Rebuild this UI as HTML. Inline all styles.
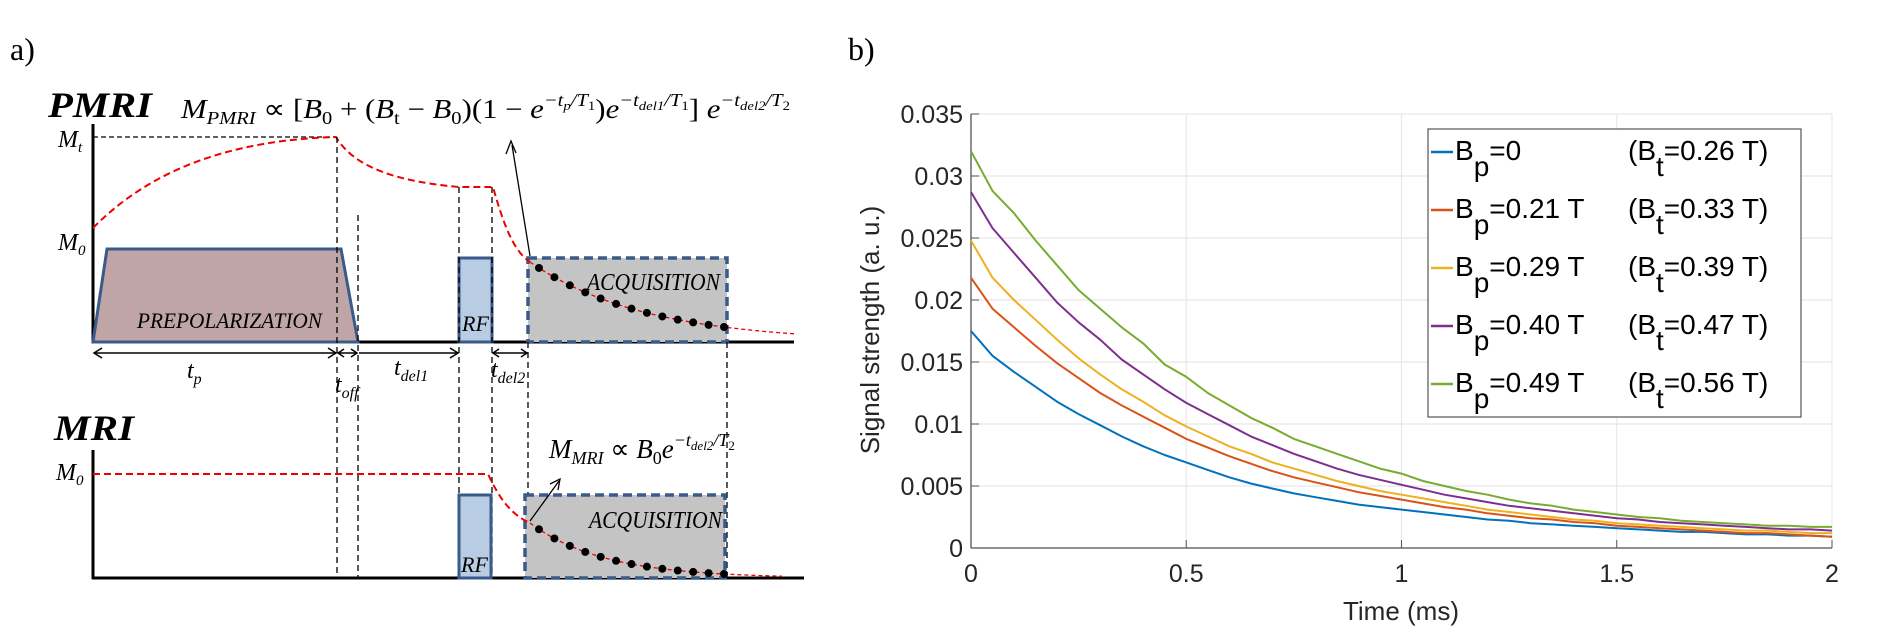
<!DOCTYPE html>
<html><head><meta charset="utf-8"><style>
html,body{margin:0;padding:0;background:#fff;}
svg{display:block;}
.serif{font-family:"Liberation Serif",serif;}
.sans{font-family:"Liberation Sans",sans-serif;}
</style></head><body>
<svg id="fig" width="1882" height="638" viewBox="0 0 1882 638" xmlns="http://www.w3.org/2000/svg">
<g id="panelA">
  <text x="10" y="60" class="serif" font-size="32">a)</text>
  <text x="48" y="117" class="serif" font-size="36" font-weight="bold" font-style="italic" textLength="104" lengthAdjust="spacingAndGlyphs">PMRI</text>
  <text x="181" y="118" class="serif" font-size="27" font-style="italic" textLength="609" lengthAdjust="spacingAndGlyphs">M<tspan font-size="18" dy="6">PMRI</tspan><tspan dy="-6" font-style="normal"> ∝ [</tspan>B<tspan font-size="18" dy="6" font-style="normal">0</tspan><tspan dy="-6" font-style="normal"> + (</tspan>B<tspan font-size="18" dy="6" font-style="normal">t</tspan><tspan dy="-6" font-style="normal"> − </tspan>B<tspan font-size="18" dy="6" font-style="normal">0</tspan><tspan dy="-6" font-style="normal">)(1 − </tspan>e<tspan font-size="18" dy="-12">−t</tspan><tspan font-size="13" dy="4">p</tspan><tspan font-size="18" dy="-4">/T</tspan><tspan font-size="13" dy="4" font-style="normal">1</tspan><tspan dy="8" font-style="normal">)</tspan>e<tspan font-size="18" dy="-12">−t</tspan><tspan font-size="13" dy="4">del1</tspan><tspan font-size="18" dy="-4">/T</tspan><tspan font-size="13" dy="4" font-style="normal">1</tspan><tspan dy="8" font-style="normal">] </tspan>e<tspan font-size="18" dy="-12">−t</tspan><tspan font-size="13" dy="4">del2</tspan><tspan font-size="18" dy="-4">/T</tspan><tspan font-size="13" dy="4" font-style="normal">2</tspan></text>

  <line x1="93" y1="124" x2="93" y2="343" stroke="#000" stroke-width="3"/>
  <line x1="92" y1="342" x2="794" y2="342" stroke="#000" stroke-width="3"/>
  <text x="58" y="147" class="serif" font-size="24" font-style="italic">M<tspan font-size="15" dy="5">t</tspan></text>
  <text x="58" y="250" class="serif" font-size="24" font-style="italic">M<tspan font-size="15" dy="5">0</tspan></text>
  <line x1="93" y1="137" x2="336" y2="137" stroke="#000" stroke-width="1.3" stroke-dasharray="5,3"/>

  <polygon points="93,342 107,249 341,249 358,342" fill="#bfa5a5" stroke="#3a5a8a" stroke-width="3"/>
  <text x="137" y="328" class="serif" font-size="22" font-style="italic" textLength="185" lengthAdjust="spacingAndGlyphs">PREPOLARIZATION</text>
  <rect x="459" y="258" width="33" height="84" fill="#b8cce4" stroke="#3a5a8a" stroke-width="3"/>
  <text x="462" y="331" class="serif" font-size="22" font-style="italic">RF</text>
  <rect x="528" y="258" width="199" height="84" fill="#c4c4c4" stroke="#3a5a8a" stroke-width="3.5" stroke-dasharray="9,5"/>
  <text x="587" y="290" class="serif" font-size="24" font-style="italic" textLength="133" lengthAdjust="spacingAndGlyphs">ACQUISITION</text>

  <path d="M93,228 C150,170 230,140 336,137 C350,160 380,180 459,187 L493,187 C505,230 515,252 530,262" fill="none" stroke="#e00" stroke-width="2" stroke-dasharray="7,4"/>
  <path id="decayTop" fill="none" stroke="#e00" stroke-width="1.3" stroke-dasharray="4,3"/>
  <g id="dotsTop"></g>
  <line x1="530" y1="256" x2="512" y2="145" stroke="#000" stroke-width="1.3"/>
  <path d="M506,154 L511,141 L516,153" fill="none" stroke="#000" stroke-width="1.3"/>

  <g stroke="#000" stroke-width="1.3" stroke-dasharray="6,4">
    <line x1="337" y1="137" x2="337" y2="578"/>
    <line x1="358" y1="215" x2="358" y2="578"/>
    <line x1="459" y1="187" x2="459" y2="578"/>
    <line x1="492" y1="187" x2="492" y2="578"/>
    <line x1="528" y1="342" x2="528" y2="578"/>
    <line x1="727" y1="342" x2="727" y2="578"/>
  </g>
  <g stroke="#000" stroke-width="1.5">
    <line x1="94" y1="353" x2="336" y2="353"/><path d="M102,348 L94,353 L102,358 M328,348 L336,353 L328,358" fill="none"/>
    <line x1="338" y1="353" x2="357" y2="353"/><path d="M344,349 L338,353 L344,357 M351,349 L357,353 L351,357" fill="none"/>
    <line x1="359" y1="353" x2="458" y2="353"/><path d="M450,348 L458,353 L450,358" fill="none"/>
    <line x1="493" y1="353" x2="527" y2="353"/><path d="M499,349 L493,353 L499,357 M521,349 L527,353 L521,357" fill="none"/>
  </g>
  <text x="187" y="378" class="serif" font-size="24" font-style="italic">t<tspan font-size="16" dy="6">p</tspan></text>
  <text x="335" y="392" class="serif" font-size="24" font-style="italic">t<tspan font-size="16" dy="6">off</tspan></text>
  <text x="394" y="375" class="serif" font-size="24" font-style="italic">t<tspan font-size="16" dy="6">del1</tspan></text>
  <text x="491" y="377" class="serif" font-size="24" font-style="italic">t<tspan font-size="16" dy="6">del2</tspan></text>

  <text x="54" y="440" class="serif" font-size="36" font-weight="bold" font-style="italic" textLength="80" lengthAdjust="spacingAndGlyphs">MRI</text>
  <line x1="93" y1="450" x2="93" y2="579" stroke="#000" stroke-width="3"/>
  <line x1="92" y1="578" x2="804" y2="578" stroke="#000" stroke-width="3"/>
  <text x="56" y="480" class="serif" font-size="24" font-style="italic">M<tspan font-size="15" dy="5">0</tspan></text>
  <rect x="459" y="495" width="32" height="83" fill="#b8cce4" stroke="#3a5a8a" stroke-width="3"/>
  <text x="461" y="572" class="serif" font-size="22" font-style="italic">RF</text>
  <rect x="525" y="495" width="200" height="83" fill="#c4c4c4" stroke="#3a5a8a" stroke-width="3.5" stroke-dasharray="9,5"/>
  <text x="589" y="528" class="serif" font-size="24" font-style="italic" textLength="133" lengthAdjust="spacingAndGlyphs">ACQUISITION</text>
  <path d="M93,474 L488,474 C500,500 512,515 530,523" fill="none" stroke="#e00" stroke-width="2" stroke-dasharray="7,4"/>
  <path id="decayBot" fill="none" stroke="#e00" stroke-width="1.3" stroke-dasharray="4,3"/>
  <g id="dotsBot"></g>
  <line x1="530" y1="521" x2="559" y2="481" stroke="#000" stroke-width="1.3"/>
  <path d="M550,484 L560,479 L558,490" fill="none" stroke="#000" stroke-width="1.3"/>
  <text x="549" y="458" class="serif" font-size="27" font-style="italic">M<tspan font-size="18" dy="6">MRI</tspan><tspan dy="-6" font-style="normal"> ∝ </tspan>B<tspan font-size="18" dy="6" font-style="normal">0</tspan><tspan dy="-6">e</tspan><tspan font-size="18" dy="-12">−t</tspan><tspan font-size="13" dy="4">del2</tspan><tspan font-size="18" dy="-4">/T</tspan><tspan font-size="13" dy="4" font-style="normal">2</tspan></text>
</g>

<g id="panelB">
  <text x="848" y="60" class="serif" font-size="32">b)</text>
  <g id="grid"></g>
  <g id="axes"></g>
  <g id="series"></g>
  <g id="legend"></g>
</g>
</svg>
<script>
const NS='http://www.w3.org/2000/svg';
function mk(tag,attrs,parent){const e=document.createElementNS(NS,tag);for(const k in attrs)e.setAttribute(k,attrs[k]);parent.appendChild(e);return e;}

(function(){
  function build(pathId,dotId,x0,x1,yb,h0,h1,xe){
    const k=Math.log(h0/h1)/(x1-x0);let d='';
    for(let x=x0;x<=xe;x+=4){const y=yb-h0*Math.exp(-k*(x-x0));d+=(d?'L':'M')+x+','+y.toFixed(1);}
    document.getElementById(pathId).setAttribute('d',d);
    const g=document.getElementById(dotId);
    for(let i=0;i<13;i++){const x=x0+9+i*(x1-x0-9)/12;const y=yb-h0*Math.exp(-k*(x-x0));
      const c=mk('circle',{cx:x,cy:y,r:4,fill:'#000'},g);
      
      }
  }
  build('decayTop','dotsTop',530,724,342,80,15,794);
  build('decayBot','dotsBot',530,724,578,55,4,785);
})();

const times=[0,0.05,0.1,0.15,0.2,0.25,0.3,0.35,0.4,0.45,0.5,0.55,0.6,0.65,0.7,0.75,0.8,0.85,0.9,0.95,1.0,1.05,1.1,1.15,1.2,1.25,1.3,1.35,1.4,1.45,1.5,1.55,1.6,1.65,1.7,1.75,1.8,1.85,1.9,1.95,2.0];
const sBlue=[0.0175,0.0155,0.0142,0.0130,0.0118,0.0108,0.0099,0.0090,0.0082,0.0075,0.0069,0.0063,0.0057,0.0052,0.0048,0.0044,0.0041,0.0038,0.0035,0.0033,0.0031,0.0029,0.0027,0.0025,0.0023,0.0022,0.0020,0.0019,0.0018,0.0017,0.0016,0.0015,0.0014,0.0013,0.0013,0.0012,0.0011,0.0011,0.0010,0.0010,0.0009];
const sRed=[0.0218,0.0193,0.0178,0.0163,0.0149,0.0137,0.0125,0.0115,0.0106,0.0097,0.0088,0.0081,0.0074,0.0068,0.0062,0.0057,0.0053,0.0049,0.0045,0.0042,0.0039,0.0036,0.0033,0.0031,0.0028,0.0026,0.0024,0.0023,0.0021,0.0020,0.0018,0.0017,0.0016,0.0015,0.0014,0.0013,0.0012,0.0012,0.0011,0.0010,0.0009];
const sYellow=[0.0248,0.0218,0.0200,0.0184,0.0168,0.0153,0.0140,0.0128,0.0118,0.0107,0.0098,0.0090,0.0082,0.0076,0.0069,0.0064,0.0059,0.0054,0.0050,0.0046,0.0043,0.0040,0.0037,0.0034,0.0031,0.0029,0.0027,0.0025,0.0023,0.0022,0.0020,0.0019,0.0018,0.0017,0.0016,0.0015,0.0014,0.0014,0.0013,0.0012,0.0012];
const sPurple=[0.0287,0.0258,0.0238,0.0218,0.0198,0.0182,0.0168,0.0152,0.0140,0.0128,0.0117,0.0108,0.0099,0.0090,0.0083,0.0076,0.0070,0.0064,0.0059,0.0055,0.0051,0.0047,0.0043,0.0040,0.0037,0.0034,0.0032,0.0030,0.0028,0.0026,0.0024,0.0023,0.0021,0.0020,0.0019,0.0018,0.0017,0.0016,0.0015,0.0015,0.0014];
const sGreen=[0.0320,0.0288,0.0270,0.0248,0.0228,0.0208,0.0193,0.0178,0.0165,0.0148,0.0138,0.0125,0.0115,0.0105,0.0097,0.0088,0.0082,0.0076,0.0070,0.0064,0.0060,0.0054,0.0050,0.0046,0.0043,0.0039,0.0036,0.0034,0.0031,0.0029,0.0027,0.0025,0.0024,0.0022,0.0021,0.0020,0.0019,0.0018,0.0018,0.0017,0.0017];
const xTicks=[0,0.5,1,1.5,2];
const xTickLabels=['0','0.5','1','1.5','2'];
const yTicks=[0,0.005,0.01,0.015,0.02,0.025,0.03,0.035];
const yTickLabels=['0','0.005','0.01','0.015','0.02','0.025','0.03','0.035'];
const seriesLabelsP=['=0','=0.21 T','=0.29 T','=0.40 T','=0.49 T'];
const seriesLabelsT=['=0.26 T)','=0.33 T)','=0.39 T)','=0.47 T)','=0.56 T)'];

const L=971,R=1832,T=114,B=548;
function xs(v){return L+(v-0)/(2-0)*(R-L);}
function ys(v){return B-(v-0)/(0.035-0)*(B-T);}

const grid=document.getElementById('grid'),axes=document.getElementById('axes');
xTicks.forEach((t,i)=>{
  const gl=mk('line',{x1:xs(t),y1:T,x2:xs(t),y2:B,stroke:'#e8e8e8','stroke-width':1.2},grid);
  
  
  mk('line',{x1:xs(t),y1:B,x2:xs(t),y2:B-8,stroke:'#555','stroke-width':1},axes);
  const tx=mk('text',{x:xs(t),y:582,'text-anchor':'middle','font-size':25,'class':'sans',fill:'#262626'},axes);
  tx.textContent=xTickLabels[i];
  
  
});
yTicks.forEach((t,i)=>{
  const gl=mk('line',{x1:L,y1:ys(t),x2:R,y2:ys(t),stroke:'#e8e8e8','stroke-width':1.2},grid);
  
  
  mk('line',{x1:L,y1:ys(t),x2:L+8,y2:ys(t),stroke:'#555','stroke-width':1},axes);
  const tx=mk('text',{x:963,y:ys(t)+9,'text-anchor':'end','font-size':25,'class':'sans',fill:'#262626'},axes);
  tx.textContent=yTickLabels[i];
  
  
});
const xa=mk('line',{x1:L,y1:B,x2:R,y2:B,stroke:'#555','stroke-width':1.3},axes);


const ya=mk('line',{x1:L,y1:T,x2:L,y2:B,stroke:'#555','stroke-width':1.3},axes);


const xt=mk('text',{x:1401,y:620,'text-anchor':'middle','font-size':26,'class':'sans',fill:'#262626'},axes);
xt.textContent='Time (ms)';


const yt=mk('text',{x:0,y:0,'text-anchor':'middle','font-size':26,'class':'sans',fill:'#262626',transform:'translate(879,330) rotate(-90)'},axes);
yt.textContent='Signal strength (a. u.)';



const allSeries=[sBlue,sRed,sYellow,sPurple,sGreen];
const colors=['#0072BD','#D95319','#EDB120','#7E2F8E','#77AC30'];
const names=['series-bp-0','series-bp-021','series-bp-029','series-bp-040','series-bp-049'];
const sg=document.getElementById('series');
allSeries.forEach((s,i)=>{
  let d='';
  s.forEach((v,j)=>{d+=(j?'L':'M')+xs(times[j]).toFixed(1)+','+ys(v).toFixed(1);});
  const p=mk('path',{d:d,fill:'none',stroke:colors[i],'stroke-width':2,'stroke-linejoin':'round'},sg);
  
  
});

const lg=document.getElementById('legend');
const box=mk('rect',{x:1428,y:129,width:373,height:288,fill:'#fff',stroke:'#555','stroke-width':1.2},lg);


colors.forEach((c,i)=>{
  const by=160+i*58;
  const g=mk('g',{},lg);
  
  
  mk('line',{x1:1431,y1:by-8,x2:1453,y2:by-8,stroke:c,'stroke-width':2.5},g);
  const t=mk('text',{x:1455,y:by,'font-size':28,'class':'sans',fill:'#000'},g);
  t.innerHTML='B<tspan dy="16">p</tspan><tspan dy="-16">'+seriesLabelsP[i]+'</tspan>';
  const t2=mk('text',{x:1628,y:by,'font-size':28,'class':'sans',fill:'#000'},g);
  t2.innerHTML='(B<tspan dy="16">t</tspan><tspan dy="-16">'+seriesLabelsT[i]+'</tspan>';
});
</script>
</body></html>
